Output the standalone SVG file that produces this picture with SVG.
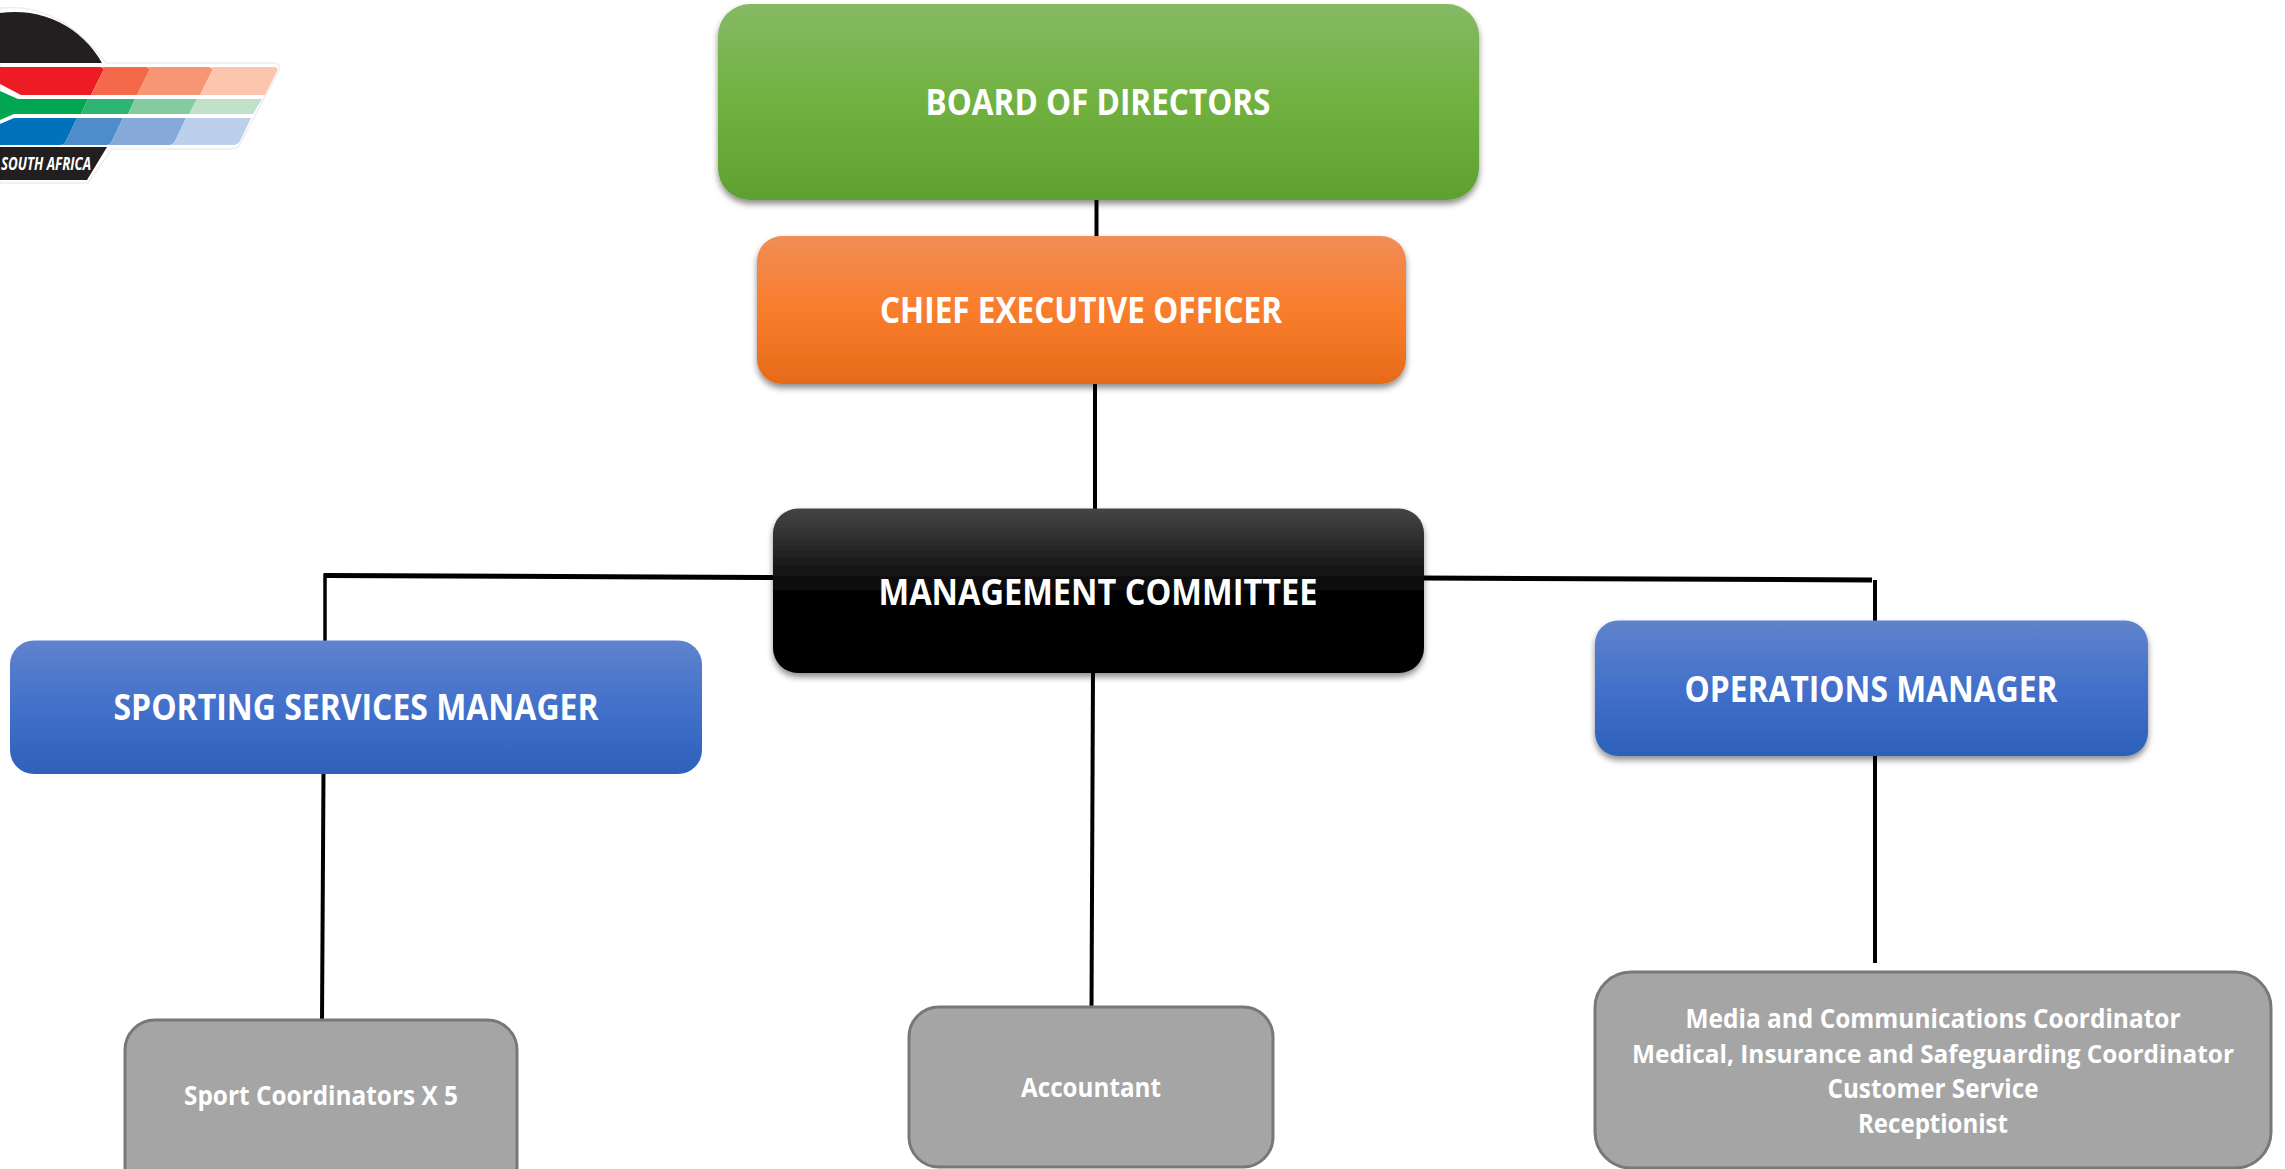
<svg xmlns="http://www.w3.org/2000/svg" width="2285" height="1169" viewBox="0 0 2285 1169">
<style>
text{font-family:"Open Sans","Liberation Sans",sans-serif;font-weight:700;fill:#fff;text-anchor:middle}
.big{font-size:36px}
.small{font-size:27px}
.small.long{font-size:25px}
.gray{fill:#a5a5a5;stroke:#787878;stroke-width:3}
.c{fill:none;stroke:#000;stroke-linecap:butt}
</style>
<defs>
<filter id="sh" x="-5%" y="-5%" width="110%" height="115%"><feDropShadow dx="0" dy="4" stdDeviation="3" flood-color="#000" flood-opacity="0.45"/></filter>
<linearGradient id="gG" x1="0" y1="0" x2="0" y2="1"><stop offset="0" stop-color="#85ba64"/><stop offset=".5" stop-color="#70b140"/><stop offset="1" stop-color="#5fa030"/></linearGradient>
<linearGradient id="gO" x1="0" y1="0" x2="0" y2="1"><stop offset="0" stop-color="#f18d57"/><stop offset=".5" stop-color="#f97d2c"/><stop offset="1" stop-color="#e66a18"/></linearGradient>
<linearGradient id="gK" x1="0" y1="0" x2="0" y2="1"><stop offset="0" stop-color="#454545"/><stop offset=".55" stop-color="#000"/><stop offset="1" stop-color="#000"/></linearGradient>
<linearGradient id="gB" x1="0" y1="0" x2="0" y2="1"><stop offset="0" stop-color="#6083cd"/><stop offset=".5" stop-color="#4270ca"/><stop offset="1" stop-color="#2e61b9"/></linearGradient>
</defs>
<g id="logo">
<path d="M0 8 Q60 2 106 63 L274 63 Q281 64 279 70 L239 146 Q236 149 231 149 L112 149 L88 183 L0 183Z" fill="#fff" stroke="#ededed" stroke-width="1.500"/>
<path d="M0 13 A100 100 0 0 1 102 63 L0 63Z" fill="#231f20"/>
<path d="M0 147 H107 L87 180 H0Z" fill="#231f20"/>
<path d="M0 67 H100 Q104 67 103 71 L91 95 H21 L0 84Z" fill="#ed1c24"/>
<path d="M103 67 H146 Q150 67 149 71 L137 95 H91 L103 71Z" fill="#f4694a"/>
<path d="M149 67 H208 Q213 67 212 71 L200 95 H137 L149 71Z" fill="#f79674"/>
<path d="M212 67 H274 Q279 67 277 71 L265 95 H200 L212 71Z" fill="#fcc6ae"/>
<path d="M0 91 L18 99 H88 L81 114 H14 L0 120Z" fill="#00a651"/>
<path d="M88 99 H135 L128 114 H81Z" fill="#2db673"/>
<path d="M135 99 H197 L189 114 H128Z" fill="#84cb9f"/>
<path d="M197 99 H262 L253 114 H189Z" fill="#bfe1c9"/>
<path d="M0 124 L14 118 H77 L66 141 Q64 145 60 145 H0Z" fill="#0072bc"/>
<path d="M77 118 H123 L112 141 Q110 145 106 145 H60 Q64 145 66 141Z" fill="#4e8ccb"/>
<path d="M123 118 H186 L175 141 Q173 145 169 145 H106 Q110 145 112 141Z" fill="#87a9da"/>
<path d="M186 118 H251 L240 141 Q238 145 233 145 H169 Q173 145 175 141Z" fill="#bccfeb"/>
<text x="46" y="170" font-size="18" font-style="italic" textLength="90" lengthAdjust="spacingAndGlyphs">SOUTH AFRICA</text>
</g>
<g id="connectors">
<path class="c" stroke-width="4" d="M1096.500 198V238"/>
<path class="c" stroke-width="4" d="M1095 383V510"/>
<path class="c" stroke-width="5" d="M774 577.500L324 575.500"/>
<path class="c" stroke-width="3.500" d="M325 573.500V642"/>
<path class="c" stroke-width="4" d="M323.500 772L322 1021"/>
<path class="c" stroke-width="4" d="M1093 671L1091.500 1008"/>
<path class="c" stroke-width="5" d="M1422 578L1872 580"/>
<path class="c" stroke-width="4" d="M1875 580V622"/>
<path class="c" stroke-width="4" d="M1875 755V963"/>
</g>
<g id="board"><rect x="718" y="4" width="761" height="196" rx="32" fill="url(#gG)" filter="url(#sh)"/><text class="big" x="1098" y="115" textLength="345" lengthAdjust="spacingAndGlyphs">BOARD OF DIRECTORS</text></g>
<g id="ceo"><rect x="757" y="236" width="649" height="148" rx="25" fill="url(#gO)" filter="url(#sh)"/><text class="big" x="1081" y="323" textLength="402" lengthAdjust="spacingAndGlyphs">CHIEF EXECUTIVE OFFICER</text></g>
<g id="management"><rect x="773" y="508.500" width="651" height="164.500" rx="25" fill="url(#gK)" filter="url(#sh)"/><text class="big" x="1098" y="605" textLength="439" lengthAdjust="spacingAndGlyphs">MANAGEMENT COMMITTEE</text></g>
<g id="sporting"><rect x="10" y="640.500" width="692" height="133.500" rx="24" fill="url(#gB)"/><text class="big" x="356" y="720" textLength="485" lengthAdjust="spacingAndGlyphs">SPORTING SERVICES MANAGER</text></g>
<g id="operations"><rect x="1595" y="620.500" width="553" height="135.500" rx="23" fill="url(#gB)" filter="url(#sh)"/><text class="big" x="1871" y="702" textLength="373" lengthAdjust="spacingAndGlyphs">OPERATIONS MANAGER</text></g>
<g id="sport-coordinators"><rect class="gray" x="125" y="1020" width="392" height="180" rx="30"/><text class="small" x="321" y="1105" textLength="274" lengthAdjust="spacingAndGlyphs">Sport Coordinators X 5</text></g>
<g id="accountant"><rect class="gray" x="909" y="1007" width="364" height="160" rx="30"/><text class="small" x="1091" y="1097" textLength="140" lengthAdjust="spacingAndGlyphs">Accountant</text></g>
<g id="coordinators"><rect class="gray" x="1595" y="972" width="676" height="196" rx="36"/>
<text class="small" x="1933" y="1028" textLength="495" lengthAdjust="spacingAndGlyphs">Media and Communications Coordinator</text>
<text class="small long" x="1933" y="1063" textLength="602" lengthAdjust="spacingAndGlyphs">Medical, Insurance and Safeguarding Coordinator</text>
<text class="small" x="1933" y="1098" textLength="211" lengthAdjust="spacingAndGlyphs">Customer Service</text>
<text class="small" x="1933" y="1133" textLength="150" lengthAdjust="spacingAndGlyphs">Receptionist</text>
</g>
</svg>
